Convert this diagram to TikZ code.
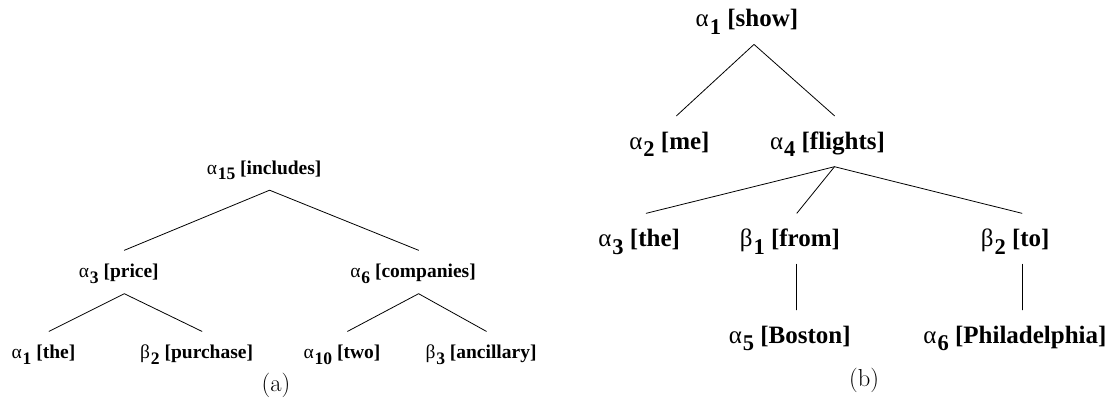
\documentclass[tikz,border=0pt]{standalone}
\usepackage{fontspec}
\usepackage{graphicx}
\newfontfamily\treefont{Liberation Serif}
\usetikzlibrary{positioning}

% elementary tree label: greek letter hung to the left, lowered index, [word]
\newcommand{\glab}[3]{\llap{\mdseries #1\kern0.04em}\raisebox{-0.3em}{\scalebox{0.9}{#2}}\ [#3]}

\begin{document}
\begin{tikzpicture}[x=1pt, y=-1pt, line cap=round, line join=round]
	
	\useasboundingbox (0,0) rectangle (1107,402);
	
	%======================
	% STYLES
	%======================
	\tikzset{
		treeA/.style={font=\treefont\bfseries\fontsize{19.5}{22}\selectfont,
			inner sep=0pt, anchor=base, text height=27pt, text depth=16pt},
		treeB/.style={font=\treefont\bfseries\fontsize{25}{28}\selectfont,
			inner sep=0pt, anchor=base, text height=33pt, text depth=17.5pt},
		branch/.style={line width=0.8pt},
		caption/.style={font=\fontsize{24.5}{28}\selectfont, anchor=base}
	}
	
	%======================
	% PANEL (a): derivation tree
	%======================
	\begin{scope}
		\node[treeA] (includes) at (269.6,174) {\glab{α}{15}{includes}};
		
		\node[treeA] (price) at (124.3,277.5) {\glab{α}{3}{price}};
		\node[treeA] (companies) at (418.6,277.5) {\glab{α}{6}{companies}};
		
		\node[treeA] (theA) at (49,358.6) {\glab{α}{1}{the}};
		\node[treeA] (purchase) at (202,358.6) {\glab{β}{2}{purchase}};
		\node[treeA] (two) at (347.5,358.6) {\glab{α}{10}{two}};
		\node[treeA] (ancillary) at (486.4,358.6) {\glab{β}{3}{ancillary}};
		
		% branches
		\draw[branch] (price.north) -- (includes.south) -- (companies.north);
		\draw[branch] (theA.north) -- (price.south) -- (purchase.north);
		\draw[branch] (two.north) -- (companies.south) -- (ancillary.north);
		
		\node[caption] (capA) at (276,391) {(a)};
	\end{scope}
	
	%======================
	% PANEL (b): derivation tree
	%======================
	\begin{scope}
		\node[treeB] (show) at (754,26.7) {\glab{α}{1}{show}};
		
		\node[treeB] (me) at (676.5,149) {\glab{α}{2}{me}};
		\node[treeB] (flights) at (834.5,149) {\glab{α}{4}{flights}};
		
		\node[treeB] (theB) at (646.2,246.5) {\glab{α}{3}{the}};
		\node[treeB] (from) at (796.8,246.5) {\glab{β}{1}{from}};
		\node[treeB] (to) at (1022,246.5) {\glab{β}{2}{to}};
		
		\node[treeB] (boston) at (796.8,343) {\glab{α}{5}{Boston}};
		\node[treeB] (phila) at (1022,343) {\glab{α}{6}{Philadelphia}};
		
		% branches
		\draw[branch] (me.north) -- (show.south) -- (flights.north);
		\draw[branch] (theB.north) -- (flights.south) -- (to.north);
		\draw[branch] (flights.south) -- (from.north);
		\draw[branch] (from.south) -- (boston.north);
		\draw[branch] (to.south) -- (phila.north);
		
		\node[caption] (capB) at (864,386) {(b)};
	\end{scope}
	
\end{tikzpicture}
\end{document}
